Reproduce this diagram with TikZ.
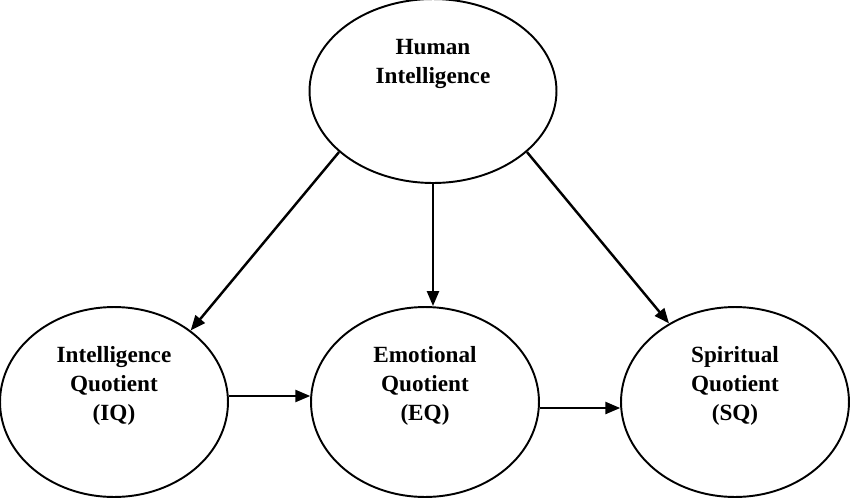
\documentclass[tikz,border=0pt]{standalone}
\usepackage{fontspec}
\setmainfont{Liberation Serif}
\usepackage{tikz}
\usetikzlibrary{positioning, arrows.meta, shapes.geometric}

\begin{document}
\begin{tikzpicture}[
            x=0.02cm, y=-0.02cm,
            oval/.style={
                    draw,
                    ellipse,
                    line width=1.1pt,
                    inner sep=0pt,
                    minimum width=4.56cm,
                    minimum height=3.8cm
                },
            caption/.style={
                    align=center,
                    font=\fontsize{13.2}{16.5}\selectfont\bfseries
                },
            arrow/.style={
                    -{Triangle[length=0.3cm,width=0.24cm]},
                    line width=1.4pt
                }
        ]

        \useasboundingbox (0,0) rectangle (850,498);


        \node[oval,minimum width=4.94cm,minimum height=3.68cm]
        (human) at (433,91) {};
        \node[caption] (humantext) at (433,64)
        {Human\\Intelligence};


        \node[oval] (iq) at (114,402) {};
        \node[caption] (iqtext) at (114,386)
        {Intelligence\\Quotient\\(IQ)};


        \node[oval] (eq) at (425,402) {};
        \node[caption] (eqtext) at (425,386)
        {Emotional\\Quotient\\(EQ)};


        \node[oval] (sq) at (735,402) {};
        \node[caption] (sqtext) at (735,386)
        {Spiritual\\Quotient\\(SQ)};


        \draw[arrow](human.213)--(iq.43);
        \draw[arrow](human.south)--(human.south |- eq.north);
        \draw[arrow](human.327)--(sq.130);
        \draw[arrow](iq.3)--(eq.177);
        \draw[arrow](eq.-3)--(sq.183);


    \end{tikzpicture}
\end{document}
